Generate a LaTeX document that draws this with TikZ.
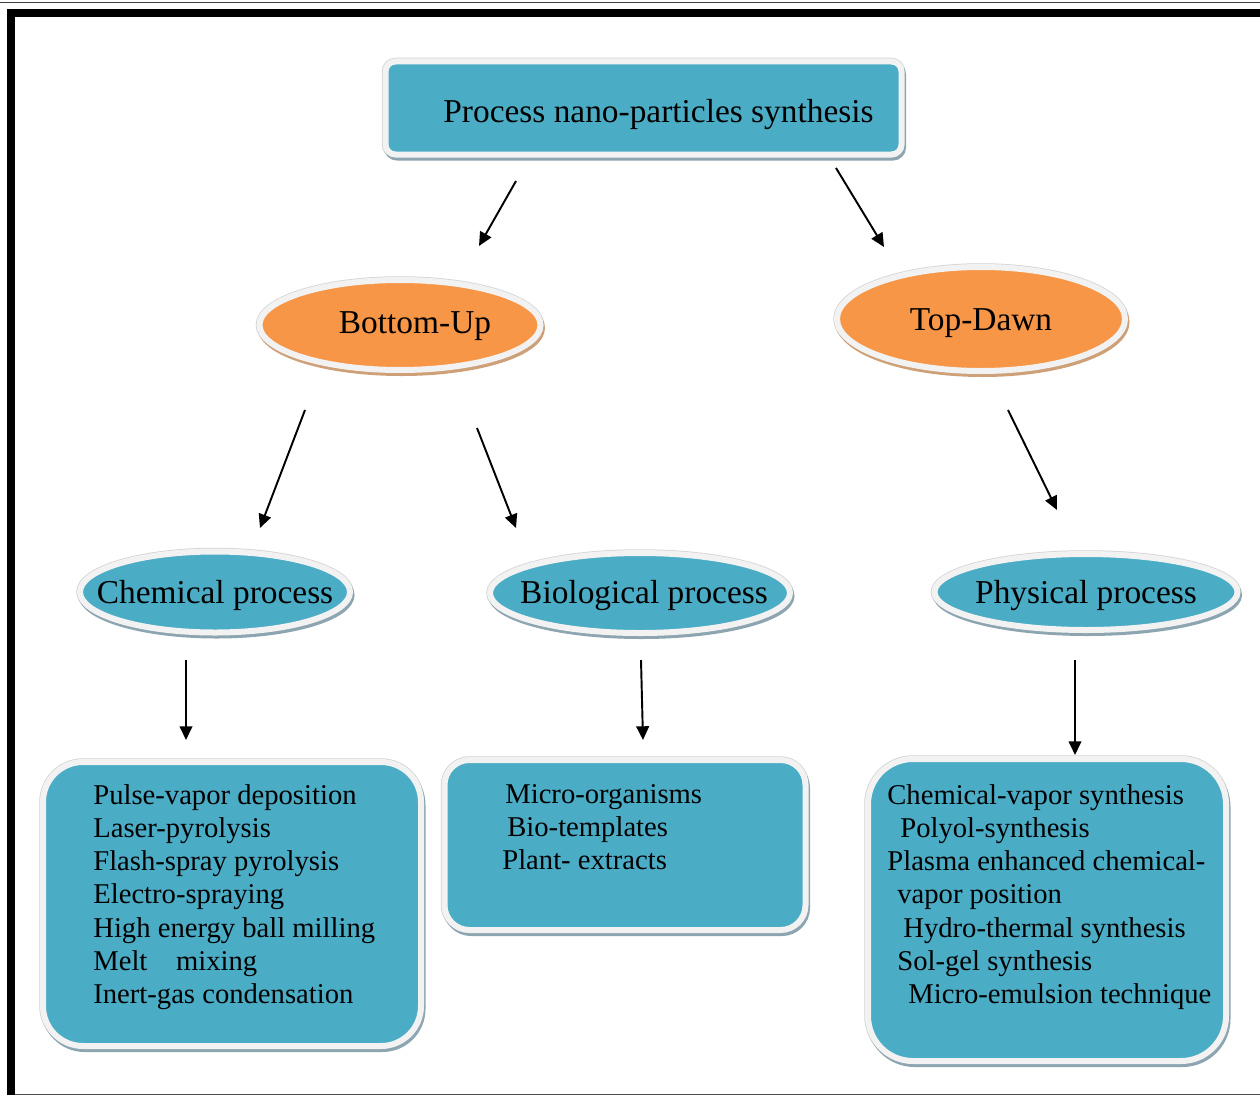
\documentclass[tikz,border=0pt]{standalone}
\usepackage{fontspec}
\setmainfont{Liberation Serif}
\usetikzlibrary{arrows.meta,shapes.geometric}
\newdimen\upx \upx=0.02cm
\definecolor{nblue}{RGB}{75,172,198}
\definecolor{norange}{RGB}{247,150,70}
\definecolor{bshadow}{RGB}{140,165,176}
\definecolor{oshadow}{RGB}{205,160,120}
\definecolor{rimcol}{RGB}{242,242,242}
\newcommand{\lowerby}[2]{\raisebox{-#1\upx}[\height][\depth]{#2}}
\tikzset{
  shadowed/.style={preaction={draw=#1, fill=#1, line width=6\upx,
      transform canvas={shift={(1.5\upx,-3\upx)}}}},
  rimmed/.style={draw=rimcol, line width=6\upx,
      preaction={draw=gray!35, line width=7.5\upx}},
  oval/.style={shape=ellipse, inner sep=0pt, rimmed,
      font=\fontsize{19pt}{22pt}\selectfont},
  blueoval/.style={oval, shadowed=bshadow, fill=nblue},
  orangeoval/.style={oval, shadowed=oshadow, fill=norange},
  listbox/.style={shape=rectangle, inner sep=0pt, rimmed, shadowed=bshadow, fill=nblue},
  listtext/.style={anchor=north west, inner sep=0pt, align=left,
      font=\fontsize{16.3pt}{18.9pt}\selectfont},
  arr/.style={-{Triangle[length=7.8pt, width=7.2pt]}, line width=1.1pt, black}
}
\begin{document}
\begin{tikzpicture}[x=0.02cm, y=-0.02cm]
\fill[white] (0,0) rectangle (1260,1095);
\useasboundingbox (0,0) rectangle (1260,1095);
% frame
\draw[black!75, line width=1.5\upx] (0,2.5) -- (1260,2.5);
\draw[black, line width=8\upx] (11.2,1095) -- (11.2,13.3) -- (1260,13.3);
\draw[black!70, line width=1.5\upx] (15,1094.3) -- (1260,1094.3);

% top box
\node[listbox, rounded corners=10\upx, minimum width=516\upx, minimum height=93\upx,
      font=\fontsize{19pt}{22pt}\selectfont] (top) at (643.5,108)
      {\lowerby{7}{\hspace*{30\upx}Process nano-particles synthesis}};

% second level
\node[orangeoval, minimum width=281\upx, minimum height=90\upx] (bu) at (400,325)
      {\makebox[0pt]{\lowerby{1}{\hspace*{30\upx}Bottom-Up}}};
\node[orangeoval, minimum width=288\upx, minimum height=104\upx] (td) at (981,319)
      {\makebox[0pt]{\lowerby{4}{Top-Dawn}}};

% third level
\node[blueoval, minimum width=270\upx, minimum height=81\upx] (chem) at (215,592)
      {\makebox[0pt]{\lowerby{3}{Chemical process}}};
\node[blueoval, minimum width=300\upx, minimum height=80\upx] (bio) at (640,593)
      {\makebox[0pt]{\lowerby{3}{\hspace*{8\upx}Biological process}}};
\node[blueoval, minimum width=303\upx, minimum height=76\upx] (phys) at (1086,592)
      {\makebox[0pt]{\lowerby{4}{Physical process}}};

% boxes
\node[listbox, rounded corners=40\upx, minimum width=378\upx, minimum height=284\upx] (chembox) at (232,904) {};
\node[listbox, rounded corners=25\upx, minimum width=361\upx, minimum height=170\upx] (biobox) at (625,845) {};
\node[listbox, rounded corners=45\upx, minimum width=358\upx, minimum height=302\upx] (physbox) at (1047,910) {};

\node[listtext] (chemtxt) at (93,784) {Pulse-vapor deposition\\
Laser-pyrolysis\\
Flash-spray pyrolysis\\
Electro-spraying\\
High energy ball milling\\
Melt\hspace{21.5\upx} mixing\\
Inert-gas condensation};

\node[listtext] (biotxt) at (502,784) {\hspace*{3\upx}Micro-organisms\\
\hspace*{5\upx}Bio-templates\\
Plant- extracts};

\node[listtext] (phystxt) at (887,784) {Chemical-vapor synthesis\\
\hspace*{13\upx}Polyol-synthesis\\
Plasma enhanced chemical-\\
\hspace*{10\upx}vapor position\\
\hspace*{16\upx}Hydro-thermal synthesis\\
\hspace*{10\upx}Sol-gel synthesis\\
\hspace*{21\upx}Micro-emulsion technique};

% arrow end points
\coordinate (a1s) at (516,181); \coordinate (a1e) at (479,246);
\coordinate (a2s) at (836,168); \coordinate (a2e) at (884,247);
\coordinate (a3s) at (305,410); \coordinate (a3e) at (260,528);
\coordinate (a4s) at (477,428); \coordinate (a4e) at (516,528);
\coordinate (a5s) at (1008,410); \coordinate (a5e) at (1057,510);
\coordinate (a6s) at (186,660); \coordinate (a6e) at (186,740);
\coordinate (a7s) at (641,660); \coordinate (a7e) at (643,740);
\coordinate (a8s) at (1075,660); \coordinate (a8e) at (1075,755);

\draw[arr] (a1s) -- (a1e);
\draw[arr] (a2s) -- (a2e);
\draw[arr] (a3s) -- (a3e);
\draw[arr] (a4s) -- (a4e);
\draw[arr] (a5s) -- (a5e);
\draw[arr] (a6s) -- (a6e);
\draw[arr] (a7s) -- (a7e);
\draw[arr] (a8s) -- (a8e);
\end{tikzpicture}
\end{document}
